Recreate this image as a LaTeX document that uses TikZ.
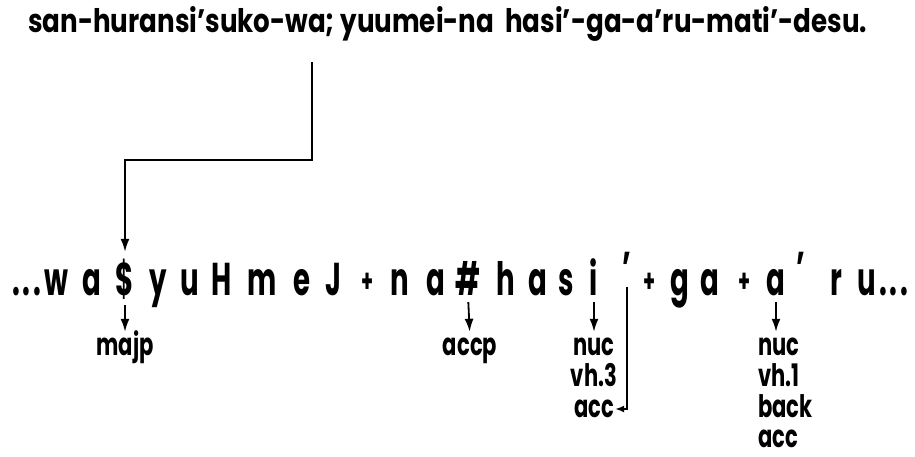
\documentclass[tikz,border=0pt]{standalone}
\usepackage{graphicx}
\usepackage{fontspec}
\setmainfont[FakeStretch=0.72]{Poppins}
\newfontfamily\segfont[FakeStretch=0.6]{Poppins}
\newfontfamily\topfont[FakeStretch=0.75]{Poppins}
\newfontfamily\labfont[FakeStretch=0.68]{Poppins}
\usetikzlibrary{arrows.meta}
\begin{document}
\begin{tikzpicture}[x=1pt,y=-1pt,
  seg/.style={inner sep=0pt, anchor=base, text height=30pt, text depth=0pt,
              font=\fontsize{46}{46}\segfont\bfseries},
  quo/.style={inner sep=0pt, anchor=north, font=\fontsize{46}{46}\segfont\bfseries},
  plus/.style={inner sep=0pt, anchor=center, font=\fontsize{32}{32}\segfont\bfseries},
  lab/.style={inner sep=0pt, anchor=base, text height=16pt, text depth=0pt,
              font=\fontsize{31}{31}\labfont\bfseries},
  arr/.style={line width=1.8pt, -{Latex[length=13pt,width=9pt]}},
  sarr/.style={line width=1.8pt, -{Latex[length=9pt,width=7pt]}}]
\useasboundingbox (0,0) rectangle (915,457);

% top sentence
\node[inner sep=0pt, anchor=base west] (top) at (28,33)
  {\resizebox{839pt}{26pt}{\topfont\bfseries san-huransi’suko-wa; yuumei-na\ \ hasi’-ga-a’ru-mati’-desu.}};

% middle row
\node[seg, anchor=base west] (d1) at (12,295) {.\hspace{3pt}.\hspace{3pt}.};
\node[seg] (w) at (56,295) {w};
\node[seg] (a1) at (92,295) {a};
\node[seg] (dol) at (125,295) {\$};
\node[seg] (y) at (158,295) {y};
\node[seg] (u1) at (190,295) {u};
\node[seg] (H) at (222,295) {H};
\node[seg] (m) at (262,295) {m};
\node[seg] (e) at (302,295) {e};
\node[seg] (J) at (333,295) {J};
\node[plus] (p1) at (368,283) {+};
\node[seg] (n) at (400,295) {n};
\node[seg] (a2) at (436,295) {a};
\node[seg] (hash) at (468,295) {\#};
\node[seg] (h) at (506,295) {h};
\node[seg] (a3) at (538,295) {a};
\node[seg] (s) at (566,295) {s};
\node[seg] (i) at (594,295) {i};
\node[quo] (q1) at (627,252) {’};
\node[plus] (p2) at (650,283) {+};
\node[seg] (g) at (680,295) {g};
\node[seg] (a4) at (710,295) {a};
\node[plus] (p3) at (745,283) {+};
\node[seg] (a5) at (776,295) {a};
\node[quo] (q2) at (801,252) {’};
\node[seg] (r) at (836,295) {r};
\node[seg] (u2) at (867,295) {u};
\node[seg, anchor=base west] (d2) at (879,295) {.\hspace{3pt}.\hspace{3pt}.};

% labels
\node[lab] (majp) at (125,355) {majp};
\node[lab] (accp) at (470,355) {accp};
\node[lab] (nucL) at (594,355) {nuc};
\node[lab] (vhL) at (594,386) {vh.3};
\node[lab] (accL) at (594,417) {acc};
\node[lab, anchor=base west] (nucR) at (758,355) {nuc};
\node[lab, anchor=base west] (vhR) at (758,386) {vh.1};
\node[lab, anchor=base west] (backR) at (758,417) {back};
\node[lab, anchor=base west] (accR) at (758,447) {acc};

% connectors
\coordinate (t0) at (312,62);
\coordinate (t1) at (312,160);
\draw[arr, shorten >=13pt] (t0) -- (t1) -| (dol.north);
\draw[arr, shorten <=10pt, shorten >=7pt] (dol.south) -- (majp.north);
\draw[arr, shorten <=7pt, shorten >=7pt] (hash.south) -- (accp.north);
\draw[arr, shorten <=7pt, shorten >=7pt] (i.south) -- (nucL.north);
\draw[arr, shorten <=7pt, shorten >=7pt] (a5.south) -- (nucR.north -| a5.south);
\draw[sarr, shorten <=2pt, shorten >=1pt] (q1.south) |- (accL.east);
\end{tikzpicture}
\end{document}
